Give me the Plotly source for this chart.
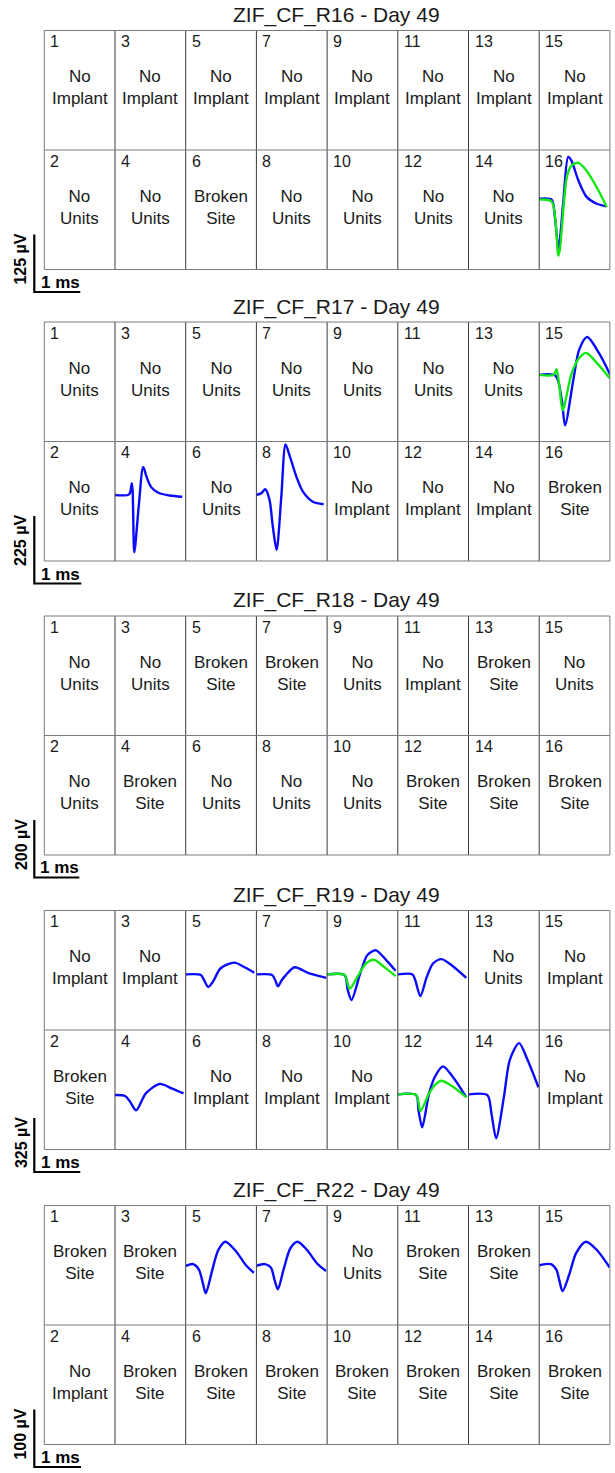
import plotly.graph_objects as go

# ---------------- data ----------------
TITLES = ["ZIF_CF_R16 - Day 49", "ZIF_CF_R17 - Day 49", "ZIF_CF_R18 - Day 49",
          "ZIF_CF_R19 - Day 49", "ZIF_CF_R22 - Day 49"]
SCALE_UV = [125, 225, 200, 325, 100]          # vertical scale bar (µV)
SCALE_MS = 1                                   # horizontal scale bar (ms)
CELL_UV = [260, 398, 416, 720, 208]            # µV spanned by one cell height
CELL_MS = [1.537, 1.504, 1.57, 1.537, 1.514]   # ms spanned by one cell width

# channel labels, channel 1..16 ("" = waveform shown)
LABELS_R16 = ["No Implant", "No Units", "No Implant", "No Units", "No Implant", "Broken Site",
              "No Implant", "No Units", "No Implant", "No Units", "No Implant", "No Units",
              "No Implant", "No Units", "No Implant", ""]
LABELS_R17 = ["No Units", "No Units", "No Units", "", "No Units", "No Units", "No Units", "",
              "No Units", "No Implant", "No Units", "No Implant", "No Units", "No Implant",
              "", "Broken Site"]
LABELS_R18 = ["No Units", "No Units", "No Units", "Broken Site", "Broken Site", "No Units",
              "Broken Site", "No Units", "No Units", "No Units", "No Implant", "Broken Site",
              "Broken Site", "Broken Site", "No Units", "Broken Site"]
LABELS_R19 = ["No Implant", "Broken Site", "No Implant", "", "", "No Implant", "", "No Implant",
              "", "No Implant", "", "", "No Units", "", "No Implant", "No Implant"]
LABELS_R22 = ["Broken Site", "No Implant", "Broken Site", "Broken Site", "", "Broken Site", "",
              "Broken Site", "No Units", "Broken Site", "Broken Site", "Broken Site",
              "Broken Site", "Broken Site", "", "Broken Site"]

# waveforms: time (ms from cell left), voltage (µV from cell centre)
R16_CH16_T_BLUE = [0, 0.27, 0.34, 0.42, 0.52, 0.63, 0.70, 0.85, 1.03, 1.25, 1.47]
R16_CH16_V_BLUE = [24, 22, -15, -84, 12, 115, 107, 64, 28, 13, 7.5]
R16_CH16_T_GREEN = [0, 0.27, 0.42, 0.60, 0.70, 0.85, 1.03, 1.25, 1.47]
R16_CH16_V_GREEN = [22, 18, -100, 71, 96, 102, 85, 49, 6]

R17_CH15_T_BLUE = [0, 0.35, 0.48, 0.55, 0.73, 0.85, 1.02, 1.27, 1.51]
R17_CH15_V_BLUE = [23, 20, -61, -145, 10, 107, 149, 96, 23]
R17_CH15_T_GREEN = [0, 0.31, 0.37, 0.43, 0.50, 0.69, 0.85, 1.0, 1.23, 1.5]
R17_CH15_V_GREEN = [23, 23, 42, -16, -95, 28, 79, 96, 62, 12]
R17_CH4_T = [0, 0.30, 0.36, 0.41, 0.50, 0.60, 0.67, 0.77, 0.91, 1.16, 1.43]
R17_CH4_V = [21, 23, 60, -170, -25, 114, 82, 47, 29, 19, 15]
R17_CH8_T = [0, 0.106, 0.19, 0.28, 0.35, 0.43, 0.53, 0.62, 0.71, 0.85, 0.99, 1.20, 1.43]
R17_CH8_V = [21, 27, 40, 4, -85, -162, 15, 189, 150, 82, 32, -1.5, -10]

R19_CH5_T = [0, 0.33, 0.40, 0.49, 0.59, 0.76, 1.06, 1.28, 1.49]
R19_CH5_V = [-25, -29, -60, -101, -70, 12, 46, 18, -15]
R19_CH7_T = [0, 0.34, 0.41, 0.47, 0.55, 0.64, 0.83, 1.15, 1.52]
R19_CH7_V = [-25, -29, -60, -97, -60, -29, 18, -19, -46]
R19_CH9_T_BLUE = [0, 0.38, 0.45, 0.53, 0.72, 0.88, 1.06, 1.28, 1.49]
R19_CH9_V_BLUE = [-25, -29, -121, -179, -19, 93, 120, 63, -3]
R19_CH9_T_GREEN = [0, 0.38, 0.49, 0.68, 0.85, 1.02, 1.23, 1.49]
R19_CH9_V_GREEN = [-25, -29, -111, -29, 42, 63, 22, -35]
R19_CH11_T = [0, 0.32, 0.38, 0.49, 0.63, 0.77, 0.95, 1.19, 1.49]
R19_CH11_V = [-25, -25, -60, -156, -40, 42, 67, 26, -46]
R19_CH4_T = [0, 0.22, 0.33, 0.46, 0.67, 0.97, 1.23, 1.49]
R19_CH4_V = [-32, -38, -73, -124, -22, 35, 9, -22]
R19_CH12_T_BLUE = [0, 0.40, 0.45, 0.53, 0.68, 0.81, 0.98, 1.19, 1.49]
R19_CH12_V_BLUE = [-28, -32, -124, -226, -22, 80, 141, 80, -46]
R19_CH12_T_GREEN = [0, 0.40, 0.49, 0.68, 0.81, 0.95, 1.19, 1.49]
R19_CH12_V_GREEN = [-28, -32, -128, -22, 29, 54, 19, -46]
R19_CH14_T = [0, 0.41, 0.50, 0.60, 0.77, 0.90, 1.10, 1.28, 1.52]
R19_CH14_V = [-28, -32, -144, -292, -43, 182, 281, 182, 15]

R22_CH5_T = [0, 0.16, 0.28, 0.37, 0.43, 0.57, 0.70, 0.85, 1.08, 1.29, 1.46]
R22_CH5_V = [-1, 2, -7, -32, -49, -8, 27, 41, 24, 0, -13]
R22_CH7_T = [0, 0.18, 0.31, 0.39, 0.46, 0.58, 0.73, 0.88, 1.08, 1.30, 1.49]
R22_CH7_V = [-1, 2, -4, -26, -42, -8, 30, 41, 27, 3, -10]
R22_CH15_T = [0, 0.25, 0.37, 0.43, 0.50, 0.64, 0.79, 1.0, 1.23, 1.51]
R22_CH15_V = [0, 2, -8, -26, -45, -17, 21, 41, 27, -4]

# ---------------- layout / style ----------------
W, H = 615, 1473
GRID_LEFT = 44.3
COL_W = 70.7
ROW_H = 119.5
PANEL_TOPS = [30.5, 322.0, 616.0, 910.5, 1205.5]
TITLE_X = 336
TITLE_GAP = 15.5
BAR_X = 34.3
BAR_GAP = 22.5
TEXT_DY = 57
NUM_DX, NUM_DY = 4, 11
FONT = "Liberation Sans, Arial, sans-serif"
BLUE = "#0a0aff"
GREEN = "#14e614"
TXT = "#1a1a1a"

LABELS = [LABELS_R16, LABELS_R17, LABELS_R18, LABELS_R19, LABELS_R22]
WAVES = {
    (0, 16): [(BLUE, R16_CH16_T_BLUE, R16_CH16_V_BLUE), (GREEN, R16_CH16_T_GREEN, R16_CH16_V_GREEN)],
    (1, 15): [(BLUE, R17_CH15_T_BLUE, R17_CH15_V_BLUE), (GREEN, R17_CH15_T_GREEN, R17_CH15_V_GREEN)],
    (1, 4): [(BLUE, R17_CH4_T, R17_CH4_V)],
    (1, 8): [(BLUE, R17_CH8_T, R17_CH8_V)],
    (3, 5): [(BLUE, R19_CH5_T, R19_CH5_V)],
    (3, 7): [(BLUE, R19_CH7_T, R19_CH7_V)],
    (3, 9): [(BLUE, R19_CH9_T_BLUE, R19_CH9_V_BLUE), (GREEN, R19_CH9_T_GREEN, R19_CH9_V_GREEN)],
    (3, 11): [(BLUE, R19_CH11_T, R19_CH11_V)],
    (3, 4): [(BLUE, R19_CH4_T, R19_CH4_V)],
    (3, 12): [(BLUE, R19_CH12_T_BLUE, R19_CH12_V_BLUE), (GREEN, R19_CH12_T_GREEN, R19_CH12_V_GREEN)],
    (3, 14): [(BLUE, R19_CH14_T, R19_CH14_V)],
    (4, 5): [(BLUE, R22_CH5_T, R22_CH5_V)],
    (4, 7): [(BLUE, R22_CH7_T, R22_CH7_V)],
    (4, 15): [(BLUE, R22_CH15_T, R22_CH15_V)],
}


def px(x):
    return x / W


def py(y):
    return 1 - y / H


fig = go.Figure()
layout_axes = {}
shapes = []
annotations = []
axis_i = [0]


def new_axes(x0, x1, y0, y1, xr, yr):
    """x0,x1,y0,y1 in page pixels (y0 top)."""
    axis_i[0] += 1
    i = axis_i[0]
    sfx = "" if i == 1 else str(i)
    common = dict(visible=False, showgrid=False, zeroline=False, fixedrange=True)
    layout_axes["xaxis" + sfx] = dict(domain=[px(x0), px(x1)], range=xr,
                                      anchor="y" + sfx, **common)
    layout_axes["yaxis" + sfx] = dict(domain=[py(y1), py(y0)], range=yr,
                                      anchor="x" + sfx, **common)
    return "x" + sfx, "y" + sfx


for p, top in enumerate(PANEL_TOPS):
    bottom = top + 2 * ROW_H
    right = GRID_LEFT + 8 * COL_W
    # title
    annotations.append(dict(x=px(TITLE_X), y=py(top - TITLE_GAP), xref="paper", yref="paper",
                            text=TITLES[p], showarrow=False, xanchor="center", yanchor="middle",
                            font=dict(family=FONT, size=21, color=TXT)))
    # grid
    for c in range(1, 8):
        x = GRID_LEFT + c * COL_W
        shapes.append(dict(type="line", xref="paper", yref="paper", x0=px(x), x1=px(x),
                           y0=py(top), y1=py(bottom), line=dict(color="#3a3a3a", width=1)))
    shapes.append(dict(type="line", xref="paper", yref="paper", x0=px(GRID_LEFT), x1=px(right),
                       y0=py(top + ROW_H), y1=py(top + ROW_H), line=dict(color="#7a7a7a", width=1)))
    shapes.append(dict(type="rect", xref="paper", yref="paper", x0=px(GRID_LEFT), x1=px(right),
                       y0=py(bottom), y1=py(top), line=dict(color="#7a7a7a", width=1)))

    # cells
    for ch in range(1, 17):
        row = 0 if ch % 2 == 1 else 1
        col = (ch - 1) // 2
        cx0 = GRID_LEFT + col * COL_W
        cy0 = top + row * ROW_H
        annotations.append(dict(x=px(cx0 + NUM_DX), y=py(cy0 + NUM_DY), xref="paper", yref="paper",
                                text=str(ch), showarrow=False, xanchor="left", yanchor="middle",
                                font=dict(family=FONT, size=16, color=TXT)))
        lab = LABELS[p][ch - 1]
        if lab:
            annotations.append(dict(x=px(cx0 + COL_W / 2), y=py(cy0 + TEXT_DY), xref="paper",
                                    yref="paper", text=lab.replace(" ", "<br>"), showarrow=False,
                                    xanchor="center", yanchor="middle",
                                    font=dict(family=FONT, size=17, color=TXT)))
        if (p, ch) in WAVES:
            xa, ya = new_axes(cx0, cx0 + COL_W, cy0, cy0 + ROW_H,
                              [0, CELL_MS[p]], [-CELL_UV[p] / 2, CELL_UV[p] / 2])
            for color, t, v in WAVES[(p, ch)]:
                fig.add_trace(go.Scatter(x=t, y=v, xaxis=xa, yaxis=ya, mode="lines",
                                         line=dict(color=color, width=2.4, shape="spline",
                                                   smoothing=0.8),
                                         hoverinfo="skip", showlegend=False))

    # scale bar, drawn on an axis with the same µV / ms scale as the cells
    bar_bottom = bottom + BAR_GAP
    pad = 6
    ms_pp = CELL_MS[p] / COL_W
    uv_pp = CELL_UV[p] / ROW_H
    xa, ya = new_axes(BAR_X - pad, BAR_X - pad + COL_W, bar_bottom + pad - ROW_H, bar_bottom + pad,
                      [-pad * ms_pp, (COL_W - pad) * ms_pp], [-pad * uv_pp, (ROW_H - pad) * uv_pp])
    fig.add_trace(go.Scatter(x=[0, 0, SCALE_MS], y=[SCALE_UV[p], 0, 0], xaxis=xa, yaxis=ya,
                             mode="lines", line=dict(color="black", width=2.2),
                             hoverinfo="skip", showlegend=False))
    bar_top = bar_bottom - SCALE_UV[p] / uv_pp
    annotations.append(dict(x=px(BAR_X + 0.5 * SCALE_MS / ms_pp + 3), y=py(bar_bottom - 9.5),
                            xref="paper", yref="paper", text="<b>1 ms</b>", showarrow=False,
                            xanchor="center", yanchor="middle",
                            font=dict(family=FONT, size=17, color="black")))
    annotations.append(dict(x=px(21), y=py(bar_top + 25), xref="paper", yref="paper",
                            text="<b>%d µV</b>" % SCALE_UV[p], showarrow=False, textangle=-90,
                            xanchor="center", yanchor="middle",
                            font=dict(family=FONT, size=16, color="black")))

fig.update_layout(width=W, height=H, margin=dict(l=0, r=0, t=0, b=0),
                  paper_bgcolor="white", plot_bgcolor="rgba(0,0,0,0)", showlegend=False,
                  shapes=shapes, annotations=annotations, **layout_axes)
fig.write_html("out.html")
